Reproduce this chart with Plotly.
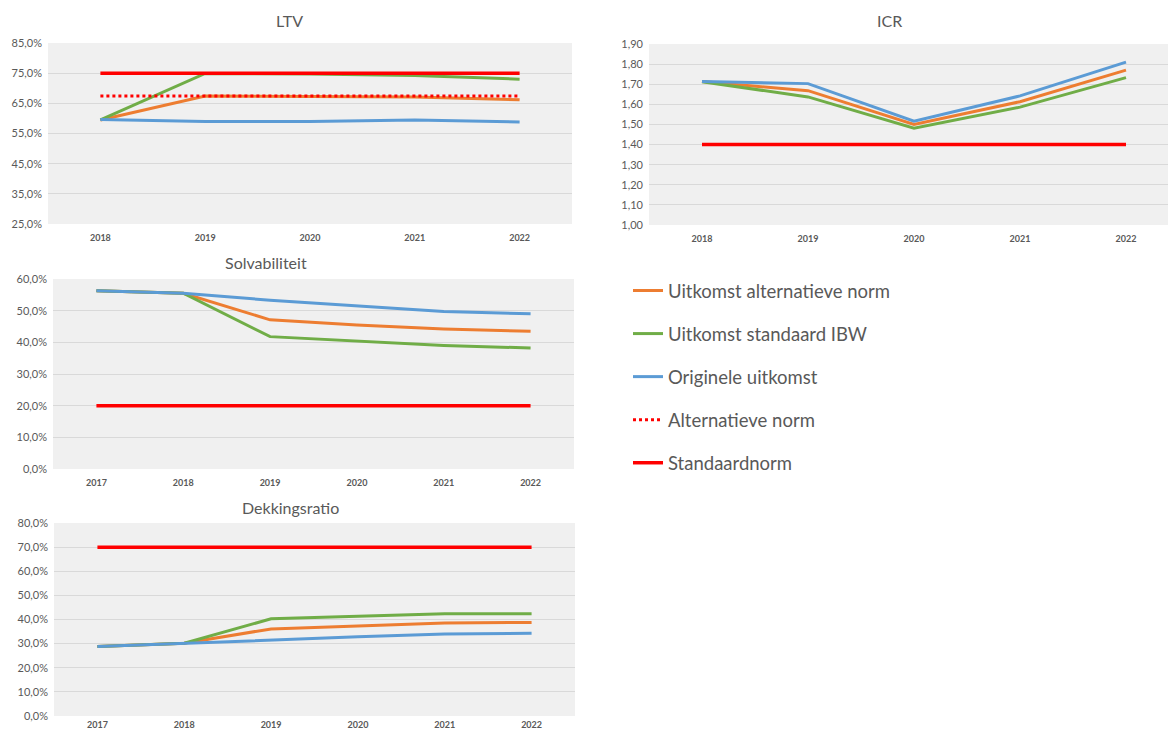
import plotly.graph_objects as go

# ---------------- data ----------------
years_ltv = [2018, 2019, 2020, 2021, 2022]
ltv_alt_uitkomst = [59.5, 67.4, 67.3, 67.1, 66.2]
ltv_ibw = [59.5, 74.9, 74.7, 74.2, 73.0]
ltv_orig = [59.6, 59.0, 59.0, 59.5, 58.8]
ltv_alt_norm = [67.4, 67.4, 67.4, 67.4, 67.4]
ltv_std_norm = [75.0, 75.0, 75.0, 75.0, 75.0]

years_icr = [2018, 2019, 2020, 2021, 2022]
icr_alt_uitkomst = [1.713, 1.668, 1.500, 1.613, 1.770]
icr_ibw = [1.712, 1.637, 1.481, 1.586, 1.733]
icr_orig = [1.714, 1.703, 1.516, 1.642, 1.810]
icr_std_norm = [1.40, 1.40, 1.40, 1.40, 1.40]

years_solv = [2017, 2018, 2019, 2020, 2021, 2022]
solv_alt_uitkomst = [56.3, 55.5, 47.1, 45.5, 44.2, 43.5]
solv_ibw = [56.3, 55.5, 41.8, 40.3, 39.0, 38.2]
solv_orig = [56.3, 55.5, 53.3, 51.6, 49.7, 49.0]
solv_std_norm = [20.0, 20.0, 20.0, 20.0, 20.0, 20.0]

years_dek = [2017, 2018, 2019, 2020, 2021, 2022]
dek_alt_uitkomst = [28.8, 30.2, 36.1, 37.2, 38.5, 38.8]
dek_ibw = [28.8, 30.2, 40.3, 41.2, 42.4, 42.4]
dek_orig = [28.8, 30.2, 31.6, 32.8, 34.0, 34.3]
dek_std_norm = [70.0, 70.0, 70.0, 70.0, 70.0, 70.0]

names = ["Uitkomst alternatieve norm", "Uitkomst standaard IBW", "Originele uitkomst",
         "Alternatieve norm", "Standaardnorm"]
titles = ["LTV", "ICR", "Solvabiliteit", "Dekkingsratio"]

# ---------------- styles ----------------
W, H = 1168, 732
ORANGE, GREEN, BLUE, RED = "#ED7D31", "#70AD47", "#5B9BD5", "#FF0000"
TXT = "#595959"
FONT = "Lato, 'Open Sans', sans-serif"

def px_x(p):
    return p / W

def px_y(p):
    return 1 - p / H

fig = go.Figure()

panels = [
    ("", years_ltv, [ltv_alt_uitkomst, ltv_ibw, ltv_orig, ltv_alt_norm, ltv_std_norm],
     (48, 572), (43, 224), [25, 85], 10, ".1f", "%", [2017.5, 2022.5], 7),
    ("2", years_icr, [icr_alt_uitkomst, icr_ibw, icr_orig, None, icr_std_norm],
     (649, 1168), (44, 225), [1.0, 1.9], 0.1, ".2f", "", [2017.5, 2017.5 + (1168 - 649) / 106], 7),
    ("3", years_solv, [solv_alt_uitkomst, solv_ibw, solv_orig, None, solv_std_norm],
     (53, 574), (279, 469), [0, 60], 10, ".1f", "%", [2016.5, 2022.5], 7),
    ("4", years_dek, [dek_alt_uitkomst, dek_ibw, dek_orig, None, dek_std_norm],
     (54, 575), (523, 716), [0, 80], 10, ".1f", "%", [2016.5, 2022.5], 2),
]

colors = [ORANGE, GREEN, BLUE, RED, RED]
widths = [3, 3, 3, 3, 3.5]
dashes = ["solid", "solid", "solid", "dot", "solid"]

layout_axes = {}
for pi, (sfx, yrs, series, xd, yd, yr, dt, fmt, suf, xr, stand) in enumerate(panels):
    for si, vals in enumerate(series):
        if vals is None:
            continue
        fig.add_trace(go.Scatter(
            x=yrs, y=vals, mode="lines", name=names[si],
            line=dict(color=colors[si], width=widths[si], dash=dashes[si]),
            xaxis="x" + sfx, yaxis="y" + sfx,
            showlegend=(pi == 0), legendgroup="g%d" % si,
        ))
    layout_axes["xaxis" + sfx] = dict(
        domain=[px_x(xd[0]), px_x(xd[1])], anchor="y" + sfx, range=xr,
        tickvals=yrs, ticktext=[str(y) for y in yrs], showgrid=False, zeroline=False,
        showline=False, ticks="", ticklabelstandoff=stand, automargin=False,
        tickfont=dict(family=FONT, size=9, color=TXT, weight="bold"), fixedrange=True,
    )
    layout_axes["yaxis" + sfx] = dict(
        domain=[px_y(yd[1]), px_y(yd[0])], anchor="x" + sfx, range=yr, dtick=dt,
        tick0=yr[0], tickformat=fmt, ticksuffix=suf, showgrid=True, gridcolor="#D9D9D9",
        gridwidth=1, zeroline=False, showline=False, ticks="", ticklabelstandoff=5,
        automargin=False,
        tickfont=dict(family=FONT, size=11, color=TXT), fixedrange=True,
    )

shapes = []
for sfx in ["", "2", "3", "4"]:
    shapes.append(dict(type="rect", xref="x" + sfx + " domain", yref="y" + sfx + " domain",
                       x0=0, x1=1, y0=0, y1=1, fillcolor="#F0F0F0", line=dict(width=0),
                       layer="below"))

title_pos = [(289, 20), (889, 21), (266, 262), (290, 507)]
annotations = [
    dict(text=t, x=px_x(x), y=px_y(y), xref="paper", yref="paper", showarrow=False,
         xanchor="center", yanchor="middle", font=dict(family=FONT, size=16, color=TXT))
    for t, (x, y) in zip(titles, title_pos)
]

fig.update_layout(
    width=W, height=H, margin=dict(l=0, r=0, t=0, b=0, pad=0, autoexpand=False),
    paper_bgcolor="white", plot_bgcolor="rgba(0,0,0,0)",
    separators=",.",
    font=dict(family=FONT, color=TXT),
    shapes=shapes, annotations=annotations,
    legend=dict(x=px_x(628), y=px_y(272), xanchor="left", yanchor="top",
                font=dict(family=FONT, size=18.5, color=TXT), tracegroupgap=16,
                bgcolor="rgba(0,0,0,0)", itemwidth=30),
    **layout_axes,
)

fig.write_html("out.html", config={"displayModeBar": False},
               post_script="document.body.style.margin='0';document.body.style.overflow='hidden';")
